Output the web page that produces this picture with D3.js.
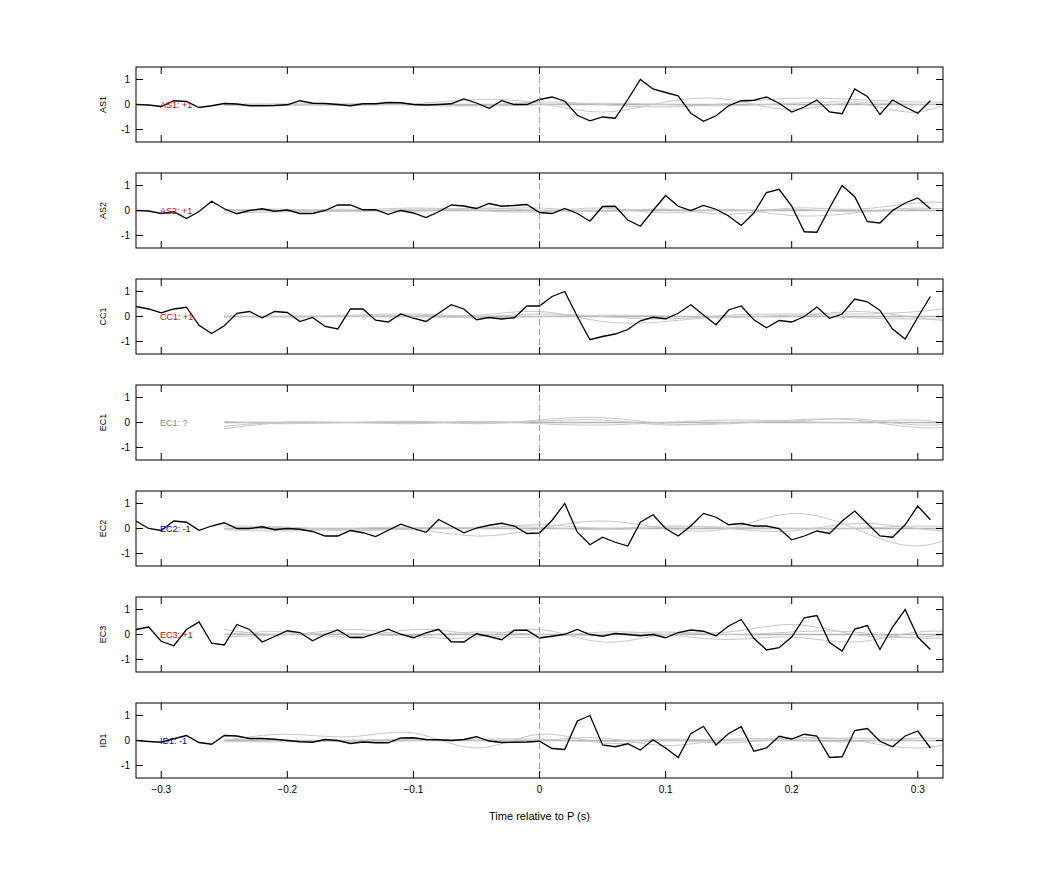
<!DOCTYPE html>
<html>
<head>
<meta charset="utf-8">
<script src="https://cdn.jsdelivr.net/npm/d3@7"></script>
<style>
  body { margin: 0; background: #fff; }
  text { font-family: "Liberation Sans", Arial, sans-serif; }
</style>
</head>
<body>
<svg id="chart" width="1042" height="875"></svg>
<script>
// channel names, sign labels and label colours
var channels = ['AS1', 'AS2', 'CC1', 'EC1', 'EC2', 'EC3', 'ID1'];
var signs = ['+1', '+1', '+1', '?', '-1', '+1', '-1'];
var signColors = ['#d40000', '#d40000', '#d40000', '#888888', '#0000cc', '#d40000', '#0000cc'];

// black trace: one value per 0.01 s from -0.32 to 0.31
var times = d3.range(64).map(function(i) { return -0.32 + i * 0.01; });
var traceAS1 = [0, -0.02, -0.08, 0.15, 0.12, -0.12, -0.05, 0.04, 0.02, -0.05, -0.05, -0.04, -0.01, 0.15, 0.05, 0.04, 0, -0.05, 0.03, 0.03, 0.08, 0.07, 0, -0.02, 0, 0.03, 0.22, 0.06, -0.15, 0.15, 0, 0, 0.2, 0.3, 0.13, -0.43, -0.65, -0.5, -0.55, 0.2,
  1.0, 0.62, 0.48, 0.35, -0.35, -0.67, -0.45, -0.05, 0.15, 0.17, 0.3, 0.05, -0.3, -0.1, 0.18, -0.3, -0.37, 0.62, 0.32, -0.4, 0.18, -0.1, -0.35, 0.15];
var traceAS2 = [0, -0.02, -0.12, -0.05, -0.32, -0.04, 0.37, 0.07, -0.13, 0, 0.07, -0.03, 0.02, -0.12, -0.12, 0, 0.22, 0.22, 0.03, 0.03, -0.15, 0, -0.1, -0.28, -0.05, 0.22, 0.18, 0.08, 0.28, 0.17, 0.2, 0.24, -0.08, -0.12, 0.08, -0.12, -0.43, 0.16, 0.17, -0.38,
  -0.63, 0.0, 0.6, 0.17, 0.0, 0.2, 0.05, -0.22, -0.6, -0.1, 0.72, 0.85, 0.18, -0.85, -0.87, 0.1, 1.0, 0.55, -0.45, -0.5, 0.0, 0.3, 0.5, 0.07];
var traceCC1 = [0.4, 0.3, 0.15, 0.3, 0.37, -0.35, -0.68, -0.37, 0.13, 0.2, -0.05, 0.2, 0.16, -0.2, -0.04, -0.4, -0.5, 0.3, 0.3, -0.15, -0.22, 0.1, -0.07, -0.2, 0.13, 0.47, 0.3, -0.13, -0.04, -0.1, -0.05, 0.42, 0.42, 0.8, 1.0, 0.0,
  -0.93, -0.8, -0.7, -0.52, -0.17, -0.03, -0.09, 0.13, 0.47, 0.06, -0.33, 0.26, 0.42, -0.13, -0.45, -0.16, -0.22, 0, 0.38, -0.07, 0.1, 0.7, 0.59, 0.24, -0.5, -0.9, -0.03, 0.8];
var traceEC1 = null;
var traceEC2 = [0.3, 0, -0.08, 0.3, 0.25, -0.07, 0.1, 0.23, 0, 0, 0.07, -0.05, 0, -0.03, -0.12, -0.3, -0.3, -0.08, -0.17, -0.32, -0.07, 0.17, 0, -0.15, 0.36, 0.1, -0.17, 0.02, 0.13, 0.21, 0.1, -0.2, -0.18, 0.33, 1.0, -0.15,
  -0.65, -0.35, -0.55, -0.7, 0.25, 0.55, 0.0, -0.3, 0.1, 0.6, 0.45, 0.15, 0.2, 0.1, 0.1, 0.0, -0.45, -0.3, -0.1, -0.2, 0.3, 0.7, 0.2, -0.3, -0.35, 0.15, 0.9, 0.35];
var traceEC3 = [0.2, 0.3, -0.27, -0.45, 0.2, 0.5, -0.35, -0.42, 0.4, 0.2, -0.3, -0.08, 0.15, 0.08, -0.25, 0, 0.18, -0.12, -0.12, 0.04, 0.21, 0.01, -0.13, 0.07, 0.21, -0.29, -0.3, 0.03, -0.08, -0.21, 0.17, 0.17, -0.14, -0.07, 0.01, 0.2,
  0, -0.07, 0.04, 0, -0.05, 0, -0.13, 0.08, 0.18, 0.13, -0.05, 0.34, 0.6, -0.15, -0.62, -0.53, -0.1, 0.67, 0.76, -0.32, -0.66, 0.22, 0.36, -0.6, 0.3, 1.0, -0.1, -0.6];
var traceID1 = [0, -0.04, -0.07, 0.07, 0.2, -0.08, -0.15, 0.2, 0.18, 0.08, 0.08, 0.05, 0, -0.05, -0.07, 0.04, 0, -0.12, -0.06, -0.09, -0.09, 0.1, 0.11, 0.04, 0.03, 0, 0.04, 0.15, -0.02, -0.08, -0.07, -0.06, -0.03,
  -0.32, -0.36, 0.78, 1.0, -0.18, -0.25, -0.13, -0.38, 0.03, -0.3, -0.68, 0.27, 0.57, -0.18, 0.28, 0.55, -0.43, -0.3, 0.17, 0.06, 0.25, 0.18, -0.68, -0.65, 0.4, 0.48, -0.03, -0.25, 0.18, 0.38, -0.3];
var traces = [traceAS1, traceAS2, traceCC1, traceEC1, traceEC2, traceEC3, traceID1];

// grey reference curves: knots every 0.05 s from -0.25 to 0.35
var knotTimes = d3.range(13).map(function(i) { return -0.25 + i * 0.05; });
var greyAS1 = [
  [0, 0, 0, 0, 0, 0, 0, 0, 0, 0, 0, 0, 0],
  [0, 0.02, 0, 0.03, 0.2, 0.05, -0.3, 0.1, 0.2, -0.2, 0.05, -0.3, 0.8],
  [0, -0.03, 0.03, -0.02, -0.05, 0.1, 0, -0.1, 0.05, 0.25, 0.2, 0.1, 0.1],
  [-0.05, 0, -0.04, 0.02, -0.05, 0, 0.05, 0, -0.05, 0.05, 0.1, 0, 0.1]
];
var greyAS2 = [
  [0, 0, 0, 0, 0, 0, 0, 0, 0, 0, 0, 0, 0],
  [-0.1, -0.05, 0, 0.1, 0.05, 0.1, -0.05, 0.05, -0.15, 0.1, 0.05, 0.3, 0.3],
  [0, 0.05, -0.05, 0.05, 0, -0.05, 0.1, -0.1, 0.05, -0.2, -0.1, 0.1, -0.1],
  [0.05, 0, 0.05, -0.03, 0.1, 0, 0, 0.05, 0, 0.05, -0.05, 0.05, 0.1]
];
var greyCC1 = [
  [0, 0, 0, 0, 0, 0, 0, 0, 0, 0, 0, 0, 0],
  [0.02, 0, 0.05, 0.1, 0.05, 0.2, -0.2, -0.2, 0, 0, 0.2, -0.05, -0.3],
  [-0.03, 0.02, 0, 0.05, 0, 0.1, 0, -0.1, 0.05, 0.1, 0.1, 0.2, 0.5],
  [0, -0.02, 0.02, 0, -0.05, 0, 0.05, 0.02, -0.05, 0.05, -0.05, -0.1, -0.1]
];
var greyEC1 = [
  [0, 0, 0, 0, 0, 0, 0, 0, 0, 0, 0, 0, 0],
  [-0.25, 0, 0, 0.05, -0.05, 0.1, 0.2, -0.05, -0.05, 0.1, 0.1, -0.2, -0.1],
  [0.05, -0.05, 0, -0.05, 0.05, -0.05, -0.1, 0, 0.1, 0.05, 0, 0.1, -0.3],
  [-0.15, 0.02, 0, 0.03, 0, 0.05, 0.1, -0.1, 0, 0.05, 0.15, -0.1, 0.1]
];
var greyEC2 = [
  [0, 0, 0, 0, 0, 0, 0, 0, 0, 0, 0, 0, 0],
  [0.1, 0.05, -0.1, -0.05, -0.3, 0, 0.3, 0, 0, 0.6, 0, -0.7, 0.2],
  [-0.05, -0.1, 0, 0.05, 0, 0.15, 0, 0.1, 0, -0.1, 0.2, 0, -0.2],
  [0, 0.05, -0.05, 0, 0.05, 0.05, -0.05, 0.05, 0.05, 0, 0, 0.1, 0]
];
var greyEC3 = [
  [0, 0, 0, 0, 0, 0, 0, 0, 0, 0, 0, 0, 0],
  [0.2, 0, 0.2, -0.05, -0.1, 0.2, -0.3, 0, 0.1, 0.4, 0, -0.1, 0.1],
  [0, 0.1, -0.1, 0.2, 0, -0.1, 0.1, 0, -0.2, -0.1, -0.3, 0.1, 0],
  [-0.1, 0, 0.05, -0.05, 0.1, 0, 0, 0.1, 0, 0.1, 0.1, -0.15, 0]
];
var greyID1 = [
  [0, 0, 0, 0, 0, 0, 0, 0, 0, 0, 0, 0, 0],
  [0, 0.25, 0.15, 0.3, -0.3, 0.25, -0.1, 0, -0.1, 0.1, 0, -0.3, 0.2],
  [-0.05, -0.05, 0, 0.05, 0, 0, 0.1, -0.2, 0.05, 0.05, 0.1, 0, 0],
  [0.05, 0, -0.05, 0, 0.05, 0.05, -0.05, 0.05, 0, 0, -0.05, 0.1, -0.05]
];
var greys = [greyAS1, greyAS2, greyCC1, greyEC1, greyEC2, greyEC3, greyID1];

var xTicks = [-0.3, -0.2, -0.1, 0, 0.1, 0.2, 0.3];
var yTicks = [-1, 0, 1];

var svg = d3.select('#chart');
var left = 136, right = 943, panelH = 75, firstTop = 67, step = 106;

var x = d3.scaleLinear().domain([-0.32, 0.32]).range([left, right]);

svg.append('defs').append('clipPath').attr('id', 'clip')
  .append('rect').attr('x', left).attr('y', 0).attr('width', right - left).attr('height', panelH);

channels.forEach(function(name, k) {
  var top = firstTop + k * step;
  var y = d3.scaleLinear().domain([-1.5, 1.5]).range([panelH, 0]);
  var g = svg.append('g').attr('transform', 'translate(0,' + top + ')');

  var plot = g.append('g').attr('clip-path', 'url(#clip)');

  var greyLine = d3.line().curve(d3.curveNatural)
    .x(function(d, i) { return x(knotTimes[i]); })
    .y(function(d) { return y(d); });
  greys[k].forEach(function(arr, j) {
    plot.append('path').datum(arr)
      .attr('fill', 'none')
      .attr('stroke', j === 0 ? '#b4b4b4' : '#c8c8c8')
      .attr('stroke-width', j === 0 ? 1.6 : 1)
      .attr('d', greyLine);
  });

  // zero line at P
  g.append('line')
    .attr('x1', x(0)).attr('x2', x(0)).attr('y1', 0).attr('y2', panelH)
    .attr('stroke', '#ff5050').attr('stroke-width', 0.8).attr('stroke-dasharray', '6,4');

  if (traces[k]) {
    var blackLine = d3.line()
      .x(function(d, i) { return x(times[i]); })
      .y(function(d) { return y(d); });
    plot.append('path').datum(traces[k])
      .attr('fill', 'none').attr('stroke', '#000').attr('stroke-width', 1.3)
      .attr('d', blackLine);
  }

  g.append('text').attr('x', 160).attr('y', y(0) + 3.5)
    .attr('font-size', 9).attr('fill', signColors[k])
    .text(name + ': ' + signs[k]);

  // box with inward ticks
  g.append('rect').attr('x', left).attr('y', 0).attr('width', right - left).attr('height', panelH)
    .attr('fill', 'none').attr('stroke', '#000').attr('stroke-width', 1);
  xTicks.forEach(function(t) {
    g.append('line').attr('x1', x(t)).attr('x2', x(t)).attr('y1', panelH).attr('y2', panelH - 7).attr('stroke', '#000');
    g.append('line').attr('x1', x(t)).attr('x2', x(t)).attr('y1', 0).attr('y2', 7).attr('stroke', '#000');
  });
  yTicks.forEach(function(v) {
    g.append('line').attr('x1', left).attr('x2', left + 7).attr('y1', y(v)).attr('y2', y(v)).attr('stroke', '#000');
    g.append('line').attr('x1', right).attr('x2', right - 7).attr('y1', y(v)).attr('y2', y(v)).attr('stroke', '#000');
    g.append('text').attr('x', left - 6).attr('y', y(v) + 3.5).attr('text-anchor', 'end')
      .attr('font-size', 10).text(v);
  });

  g.append('text')
    .attr('transform', 'translate(106,' + y(0) + ') rotate(-90)')
    .attr('text-anchor', 'middle').attr('font-size', 9).text(name);

  if (k === channels.length - 1) {
    xTicks.forEach(function(t) {
      g.append('text').attr('x', x(t)).attr('y', panelH + 15).attr('text-anchor', 'middle')
        .attr('font-size', 10).text(t === 0 ? '0' : d3.format('.1f')(t));
    });
  }
});

svg.append('text').attr('x', x(0)).attr('y', 820).attr('text-anchor', 'middle')
  .attr('font-size', 11).text('Time relative to P (s)');
</script>
</body>
</html>
